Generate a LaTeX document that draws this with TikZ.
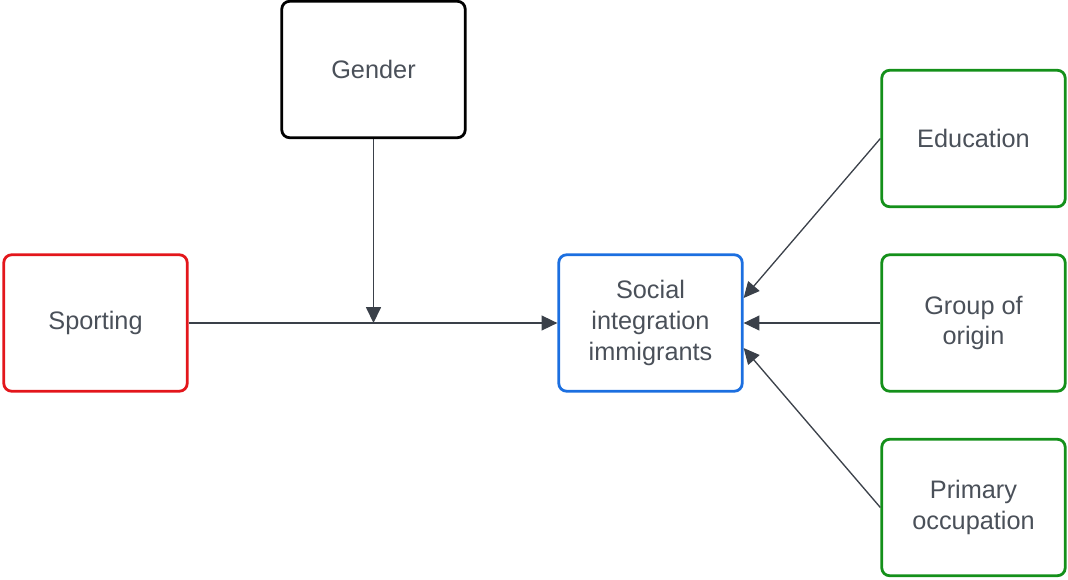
\documentclass[tikz,border=0pt]{standalone}
\usepackage{fontspec}
\setmainfont{Liberation Sans}
\usetikzlibrary{arrows.meta}
\definecolor{txtgray}{HTML}{4A5059}
\definecolor{linegray}{HTML}{7C8088}
\definecolor{tipgray}{HTML}{3A4049}
\definecolor{boxred}{HTML}{E3161B}
\definecolor{boxblue}{HTML}{1C6FE0}
\definecolor{boxgreen}{HTML}{14901A}
\tikzset{
  box/.style={draw, line width=1.6pt, rounded corners=4.5pt, minimum width=3.67cm,
    minimum height=2.73cm, align=center, text=txtgray, font=\fontsize{14.4}{17.4}\selectfont},
  link/.style={draw=linegray, line width=0.75pt,
    -{Triangle[length=9pt,width=8.5pt,fill=tipgray]}, tipgray}
}
\begin{document}
\begin{tikzpicture}[x=0.02cm,y=-0.02cm]
  \useasboundingbox (0,0) rectangle (1068,579);
  \node[box] (gender) at (373.5,69.5) {Gender};
  \node[box, draw=boxred] (sport) at (95.5,323) {Sporting};
  \node[box, draw=boxblue] (social) at (650.5,323) {Social\\integration\\immigrants};
  \node[box, draw=boxgreen] (edu) at (973.5,138.5) {Education};
  \node[box, draw=boxgreen] (origin) at (973.5,323) {Group of\\origin};
  \node[box, draw=boxgreen] (occup) at (973.5,507.5) {Primary\\occupation};
  \coordinate (mid) at (373.5,323);
  \draw[link] (sport) -- (social);
  \draw[link] (gender) -- (mid);
  \draw[link] (edu.west) -- ([yshift=0.5cm]social.east);
  \draw[link] (origin) -- (social);
  \draw[link] (occup.west) -- ([yshift=-0.5cm]social.east);
\end{tikzpicture}
\end{document}
